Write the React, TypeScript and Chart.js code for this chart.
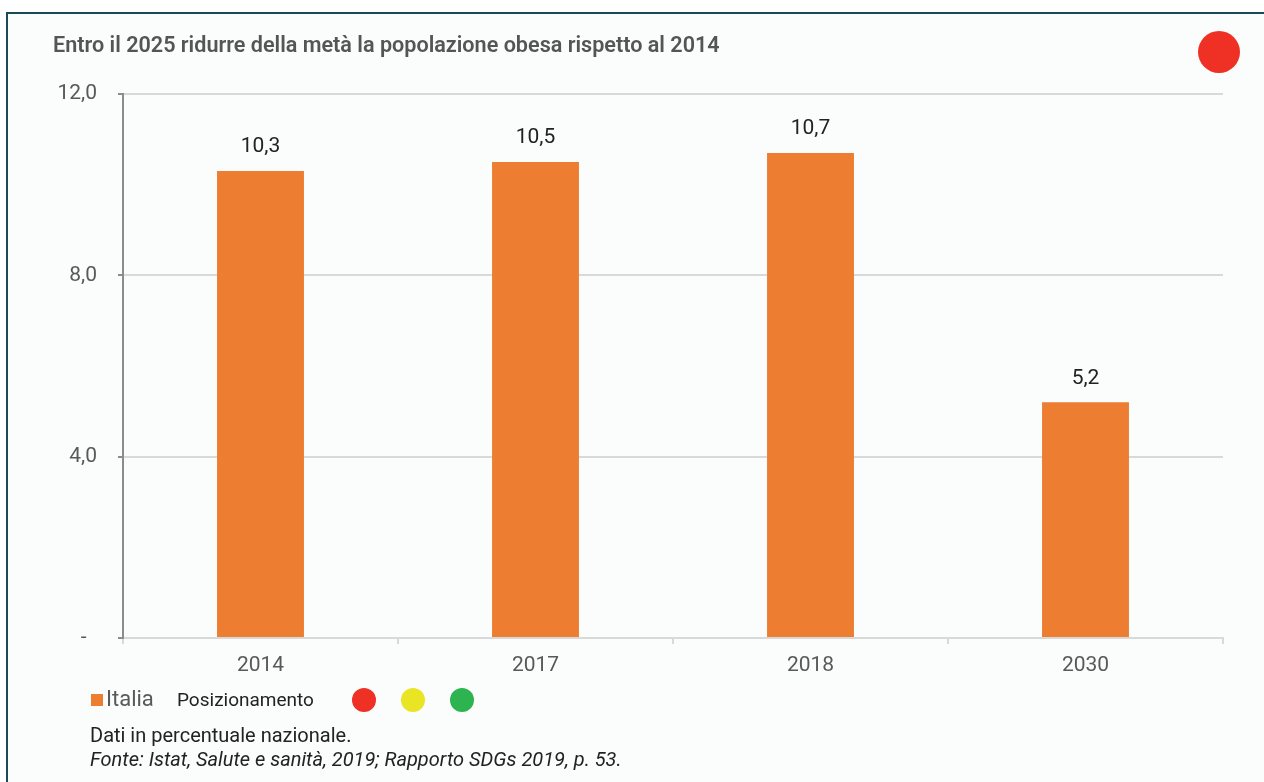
import React, { useEffect, useRef } from "react";
import { Chart, registerables } from "chart.js";

Chart.register(...registerables);

const categories = ["2014", "2017", "2018", "2030"];
const italiaValues = [10.3, 10.5, 10.7, 5.2];
const valueLabels = ["10,3", "10,5", "10,7", "5,2"];
const yTickValues = [0, 4, 8, 12];
const yTickLabels = ["-  ", "4,0", "8,0", "12,0"];
const statusColors = ["#EE3124", "#E9E524", "#2DB34F"];

const FONT = "Roboto, 'Noto Sans', sans-serif";

const barLabelPlugin = {
  id: "barLabels",
  afterDatasetsDraw(chart: any) {
    const ctx = chart.ctx;
    const meta = chart.getDatasetMeta(0);
    ctx.save();
    ctx.font = `21px ${FONT}`;
    ctx.fillStyle = "#222222";
    ctx.textAlign = "center";
    ctx.textBaseline = "middle";
    meta.data.forEach((bar: any, i: number) => {
      ctx.fillText(valueLabels[i], bar.x, bar.y - 24);
    });
    ctx.restore();
  },
};

export default function App() {
  const canvasRef = useRef<HTMLCanvasElement | null>(null);

  useEffect(() => {
    if (!canvasRef.current) return;
    const chart = new Chart(canvasRef.current, {
      type: "bar",
      data: {
        labels: categories,
        datasets: [
          {
            label: "Italia",
            data: italiaValues,
            backgroundColor: "#ED7D31",
            categoryPercentage: 1,
            barPercentage: 0.316,
          },
        ],
      },
      options: {
        responsive: false,
        animation: false,
        layout: { padding: { left: 0, right: 41, top: 94, bottom: 0 } },
        plugins: {
          legend: { display: false },
          tooltip: { enabled: false },
        },
        scales: {
          x: {
            afterFit(scale: any) {
              scale.height = 144;
            },
            grid: {
              offset: true,
              drawOnChartArea: false,
              drawTicks: true,
              tickLength: 6,
              tickColor: "#D9D9D9",
              lineWidth: 2,
            },
            border: { color: "#D9D9D9", width: 2 },
            ticks: {
              color: "#595959",
              font: { family: FONT, size: 21 },
              padding: 9,
            },
          },
          y: {
            min: 0,
            max: 12,
            afterFit(scale: any) {
              scale.width = 123;
            },
            afterBuildTicks(scale: any) {
              scale.ticks = yTickValues.map((v) => ({ value: v }));
            },
            grid: {
              color: (c: any) => (c.tick && c.tick.value === 0 ? "rgba(0,0,0,0)" : "#D9D9D9"),
              lineWidth: 2,
              tickLength: 5,
              tickColor: "#8C8C8C",
            },
            border: { color: "#8C8C8C", width: 2 },
            ticks: {
              color: "#595959",
              font: { family: FONT, size: 21 },
              padding: 21,
              callback: (value: any) => {
                const idx = yTickValues.indexOf(Number(value));
                return idx >= 0 ? yTickLabels[idx] : "";
              },
            },
          },
        },
      },
      plugins: [barLabelPlugin],
    });
    return () => chart.destroy();
  }, []);

  return (
    <div
      style={{
        position: "absolute",
        left: 0,
        top: 0,
        width: 1264,
        height: 782,
        overflow: "hidden",
        background: "#FFFFFF",
        fontFamily: FONT,
      }}
    >
      <div
        style={{
          position: "absolute",
          left: 6,
          top: 12,
          width: 1300,
          height: 800,
          border: "2px solid #1D4858",
          background: "#FBFCFC",
          boxSizing: "border-box",
        }}
      />
      <canvas
        ref={canvasRef}
        width={1264}
        height={782}
        style={{ position: "absolute", left: 0, top: 0, width: 1264, height: 782 }}
      />
      <div
        style={{
          position: "absolute",
          left: 53,
          top: 32,
          fontSize: 21.6,
          fontWeight: 600,
          color: "#555555",
          whiteSpace: "nowrap",
        }}
      >
        Entro il 2025 ridurre della metà la popolazione obesa rispetto al 2014
      </div>
      <div
        style={{
          position: "absolute",
          left: 1198,
          top: 31,
          width: 42,
          height: 42,
          borderRadius: "50%",
          background: statusColors[0],
        }}
      />
      <div
        style={{
          position: "absolute",
          left: 91,
          top: 694,
          width: 12,
          height: 12,
          background: "#ED7D31",
        }}
      />
      <div
        style={{
          position: "absolute",
          left: 106,
          top: 686,
          fontSize: 22,
          color: "#595959",
          whiteSpace: "nowrap",
        }}
      >
        Italia
      </div>
      <div
        style={{
          position: "absolute",
          left: 177,
          top: 688,
          fontSize: 19,
          color: "#222222",
          whiteSpace: "nowrap",
        }}
      >
        Posizionamento
      </div>
      {statusColors.map((c, i) => (
        <div
          key={c}
          style={{
            position: "absolute",
            left: 352 + i * 49,
            top: 688,
            width: 24,
            height: 24,
            borderRadius: "50%",
            background: c,
          }}
        />
      ))}
      <div
        style={{
          position: "absolute",
          left: 90,
          top: 723,
          fontSize: 20,
          color: "#222222",
          whiteSpace: "nowrap",
        }}
      >
        Dati in percentuale nazionale.
      </div>
      <div
        style={{
          position: "absolute",
          left: 90,
          top: 747,
          fontSize: 20,
          fontStyle: "italic",
          color: "#222222",
          whiteSpace: "nowrap",
        }}
      >
        Fonte: Istat, Salute e sanità, 2019; Rapporto SDGs 2019, p. 53.
      </div>
    </div>
  );
}
